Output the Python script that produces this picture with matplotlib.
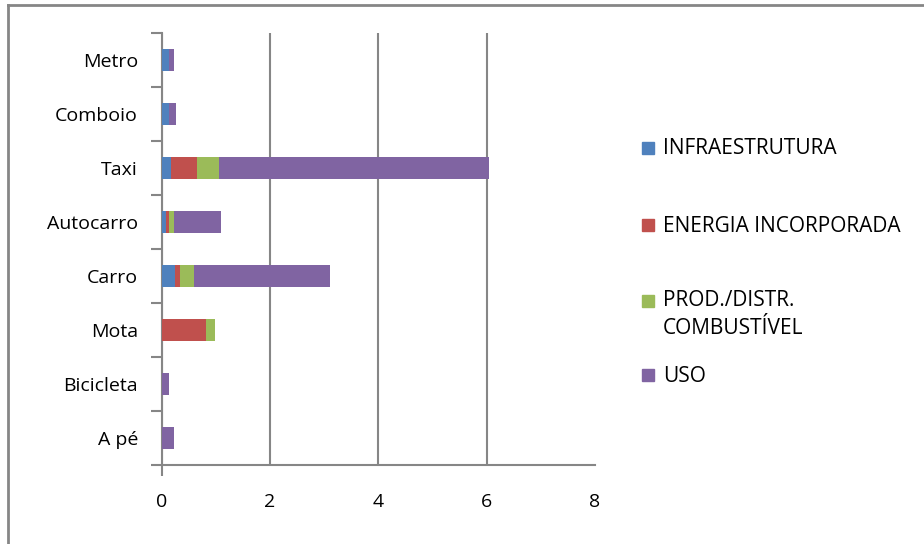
import numpy as np
import matplotlib.pyplot as plt
from matplotlib.lines import Line2D
from matplotlib.patches import Rectangle

plt.rcParams['font.family'] = ['Open Sans', 'DejaVu Sans']

modos = ["A pé", "Bicicleta", "Mota", "Carro", "Autocarro", "Taxi", "Comboio", "Metro"]
series = ["INFRAESTRUTURA", "ENERGIA INCORPORADA", "PROD./DISTR.\nCOMBUSTÍVEL", "USO"]
cores = ["#4F81BD", "#C0504D", "#9BBB59", "#8064A2"]

infraestrutura = [0.0, 0.0, 0.0, 0.25, 0.08, 0.17, 0.14, 0.14]
energia = [0.0, 0.0, 0.82, 0.09, 0.06, 0.48, 0.0, 0.0]
combustivel = [0.0, 0.0, 0.17, 0.26, 0.09, 0.41, 0.0, 0.0]
uso = [0.23, 0.14, 0.0, 2.51, 0.87, 4.99, 0.13, 0.09]

xticks = [0, 2, 4, 6, 8]

fig = plt.figure(figsize=(9.24, 5.44), dpi=100)
ax = fig.add_axes([161.5/924, 1-465/544, (595-161.5)/924, (465-33)/544])

gray = "#868686"
y = np.arange(len(modos))
left = np.zeros(len(modos))
for vals, c in zip([infraestrutura, energia, combustivel, uso], cores):
    ax.barh(y, vals, left=left, height=0.41, color=c, zorder=3)
    left = left + np.array(vals)

ax.set_xlim(0, 8)
ax.set_ylim(-0.5, len(modos)-0.5)
ax.xaxis.remove_overlapping_locs = False
ax.set_xticks(xticks)
ax.set_xticklabels([str(t) for t in xticks], fontsize=14)
ax.set_xticks([0], minor=True)
ax.set_yticks(y)
ax.set_yticklabels(modos, fontsize=14)
ax.set_yticks(np.arange(-0.5, len(modos), 1), minor=True)
ax.tick_params(axis='y', which='major', length=0, pad=17)
ax.tick_params(axis='y', which='minor', length=8, width=1.5, color=gray, direction='out')
ax.tick_params(axis='x', which='major', length=0, pad=20)
ax.tick_params(axis='x', which='minor', length=8, width=1.5, color=gray, direction='out')
ax.grid(axis='x', which='major', color=gray, linewidth=1.5, zorder=0)
ax.get_xgridlines()[-1].set_visible(False)
for s in ["top", "right"]:
    ax.spines[s].set_visible(False)
for s in ["left", "bottom"]:
    ax.spines[s].set_color(gray)
    ax.spines[s].set_linewidth(1.5)

# legend on the right
leg_y = [148, 225, 301, 375]
for lab, c, yy in zip(series, cores, leg_y):
    fig.patches.append(Rectangle((642/924, 1-(yy+6)/544), 12/924, 12/544,
                                 transform=fig.transFigure, color=c))
    if '\n' in lab:
        fig.text(663/924, 1-(yy-11)/544, lab, fontsize=15, va='top',
                 linespacing=1.45, transform=fig.transFigure)
    else:
        fig.text(663/924, 1-(yy+1)/544, lab, fontsize=15, va='center',
                 transform=fig.transFigure)

# outer frame (top & left)
fig.lines.append(Line2D([8/924, 1], [1-5/544, 1-5/544], transform=fig.transFigure, color=gray, lw=2))
fig.lines.append(Line2D([8/924, 8/924], [0, 1-5/544], transform=fig.transFigure, color=gray, lw=2))

fig.savefig("out.png", dpi=100)
